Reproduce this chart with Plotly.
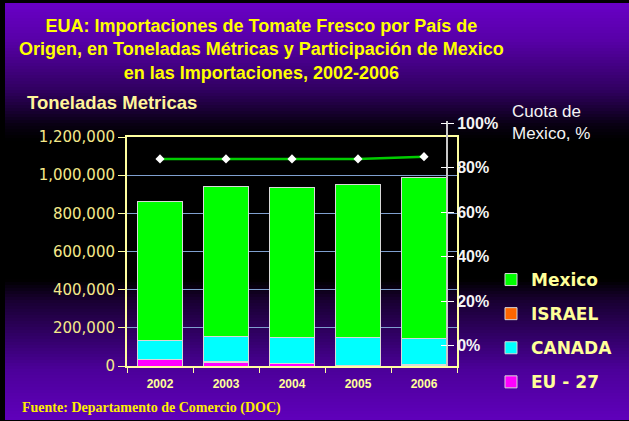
import plotly.graph_objects as go

# ---------------- data ----------------
years = ["2002", "2003", "2004", "2005", "2006"]
eu27 = [33000, 20000, 14000, 4000, 5000]
israel = [1500, 1000, 800, 500, 300]
canada = [99000, 133000, 137000, 147000, 140000]
mexico = [731000, 789000, 781000, 800000, 845000]
share_mexico = [84, 84, 84, 84, 85]
left_ticks = [0, 200000, 400000, 600000, 800000, 1000000, 1200000]
right_ticks = [0, 20, 40, 60, 80, 100]
right_labels = ["0%", "20%", "40%", "60%", "80%", "100%"]

W, H = 629, 421


def px(x):
    return x / W


def py(y):
    return 1 - y / H


fig = go.Figure()

bar_line = dict(color="#d8d8d8", width=1)
fig.add_trace(go.Bar(x=years, y=eu27, name="EU - 27", marker=dict(color="#ff00ff", line=bar_line),
                     legendgroup="eu", legendrank=4))
fig.add_trace(go.Bar(x=years, y=israel, name="ISRAEL", marker=dict(color="#ff6600", line=bar_line),
                     legendgroup="is", legendrank=2))
fig.add_trace(go.Bar(x=years, y=canada, name="CANADA", marker=dict(color="#00ffff", line=bar_line),
                     legendgroup="ca", legendrank=3))
fig.add_trace(go.Bar(x=years, y=mexico, name="Mexico", marker=dict(color="#00ff00", line=bar_line),
                     legendgroup="mx", legendrank=1))
fig.add_trace(go.Scatter(x=years, y=share_mexico, xaxis="x2", yaxis="y2", mode="lines+markers",
                         line=dict(color="#00cc00", width=2.5),
                         marker=dict(symbol="diamond", size=7, color="white"),
                         showlegend=False))
# helper trace so the inner tick marks of the share axis are drawn
fig.add_trace(go.Scatter(x=years, y=share_mexico, xaxis="x2", yaxis="y3", mode="lines",
                         line=dict(width=0), opacity=0, hoverinfo="skip", showlegend=False))

# background gradient strips
stops = [(0, (0x6a, 0x00, 0xc8)), (40, (0x58, 0x00, 0xa8)), (90, (0x30, 0x00, 0x60)),
         (125, (0x08, 0x00, 0x12)), (140, (0, 0, 0)), (280, (0, 0, 0)), (300, (0x18, 0x00, 0x30)),
         (340, (0x34, 0x00, 0x6c)), (370, (0x4c, 0x00, 0x9a)), (421, (0x60, 0x00, 0xbc))]


def color_at(y):
    for (y0, c0), (y1, c1) in zip(stops[:-1], stops[1:]):
        if y0 <= y <= y1:
            t = (y - y0) / (y1 - y0) if y1 > y0 else 0
            return "rgb(%d,%d,%d)" % tuple(round(a + (b - a) * t) for a, b in zip(c0, c1))
    return "rgb(0,0,0)"


shapes = []
step = 3
for y in range(0, H, step):
    shapes.append(dict(type="rect", xref="paper", yref="paper", x0=0, x1=1,
                       y0=py(min(y + step, H)), y1=py(y), fillcolor=color_at(y + step / 2),
                       line=dict(width=0), layer="below"))
# black frame on left and top
shapes.append(dict(type="rect", xref="paper", yref="paper", x0=0, x1=px(5), y0=0, y1=1,
                   fillcolor="black", line=dict(width=0), layer="below"))
shapes.append(dict(type="rect", xref="paper", yref="paper", x0=0, x1=1, y0=py(3), y1=1,
                   fillcolor="black", line=dict(width=0), layer="below"))

wide = "DejaVu Sans, Verdana, sans-serif"
annotations = [
    dict(text="EUA: Importaciones de Tomate Fresco por País de<br>Origen, en Toneladas Métricas y Participación de Mexico<br>en las Importaciones, 2002-2006",
         x=px(261), y=py(50), xref="paper", yref="paper", xanchor="center", yanchor="middle",
         showarrow=False, align="center",
         font=dict(family="Liberation Sans, Arial", size=18, color="#ffff00", weight="bold")),
    dict(text="Toneladas Metricas", x=px(25), y=py(102), xref="paper", yref="paper",
         xanchor="left", yanchor="middle", showarrow=False,
         font=dict(family="Liberation Sans, Arial", size=18.5, color="#fff59a", weight="bold")),
    dict(text="Cuota de<br>Mexico, %", x=px(510), y=py(123), xref="paper", yref="paper",
         xanchor="left", yanchor="middle", showarrow=False, align="left",
         font=dict(family="Liberation Sans, Arial", size=17, color="#f4f4f4")),
    dict(text="Fuente: Departamento de Comercio (DOC)", x=px(20), y=py(408), xref="paper", yref="paper",
         xanchor="left", yanchor="middle", showarrow=False,
         font=dict(family="Liberation Serif, Times New Roman, serif", size=14, color="#ffee00",
                   weight="bold")),
]

share_axis = dict(range=[-9.13, 101.03], tickvals=right_ticks, showgrid=False, zeroline=False)

fig.update_layout(
    width=W, height=H,
    margin=dict(l=0, r=0, t=0, b=0, autoexpand=False),
    paper_bgcolor="black",
    plot_bgcolor="rgba(0,0,0,0)",
    barmode="stack",
    bargap=0.32,
    showlegend=True,
    legend=dict(x=px(491), y=py(262), xanchor="left", yanchor="top",
                traceorder="grouped", tracegroupgap=9,
                bgcolor="rgba(0,0,0,0)",
                font=dict(family=wide, size=17, color="#ffff99", weight="bold")),
    xaxis=dict(domain=[px(127), px(457)], type="category", range=[-0.5, 4.5],
               showline=True, linecolor="#ffffa0", linewidth=2, mirror=True,
               ticks="outside", tickson="boundaries", ticklen=5, tickcolor="#ffffa0",
               ticklabelstandoff=6,
               tickfont=dict(family="Liberation Sans, Arial", size=12, color="#ffff99", weight="bold"),
               showgrid=False),
    yaxis=dict(domain=[py(366), py(137)], range=[0, 1200000], tickvals=left_ticks, tickformat=",",
               showline=True, linecolor="#ffffa0", linewidth=2, mirror=True,
               ticks="outside", ticklen=7, tickcolor="#ffffa0",
               showgrid=True, gridcolor="#7f9fcf", gridwidth=1, zeroline=False,
               tickfont=dict(family=wide, size=15, color="#f5e98a")),
    xaxis2=dict(domain=[px(127), px(457)], anchor="y2", type="category", range=[-0.5, 4.5],
                visible=False),
    yaxis2=dict(domain=[py(366), py(121)], anchor="free",
                position=px(447), side="right", ticktext=right_labels,
                showline=True, linecolor="#c8c8c8", linewidth=2,
                ticks="outside", ticklen=6, tickcolor="#ffffff",
                tickfont=dict(family="Liberation Sans, Arial", size=16, color="#f4f4f4",
                              weight="bold"),
                **share_axis),
    yaxis3=dict(overlaying="y2", anchor="free", position=px(447), side="right",
                showline=False, ticks="inside", ticklen=6, tickcolor="#ffffff",
                showticklabels=False, **share_axis),
    shapes=shapes,
    annotations=annotations,
)

fig.write_html("out.html", config={"displayModeBar": False},
               post_script="document.body.style.margin='0px';document.body.style.overflow='hidden';")
